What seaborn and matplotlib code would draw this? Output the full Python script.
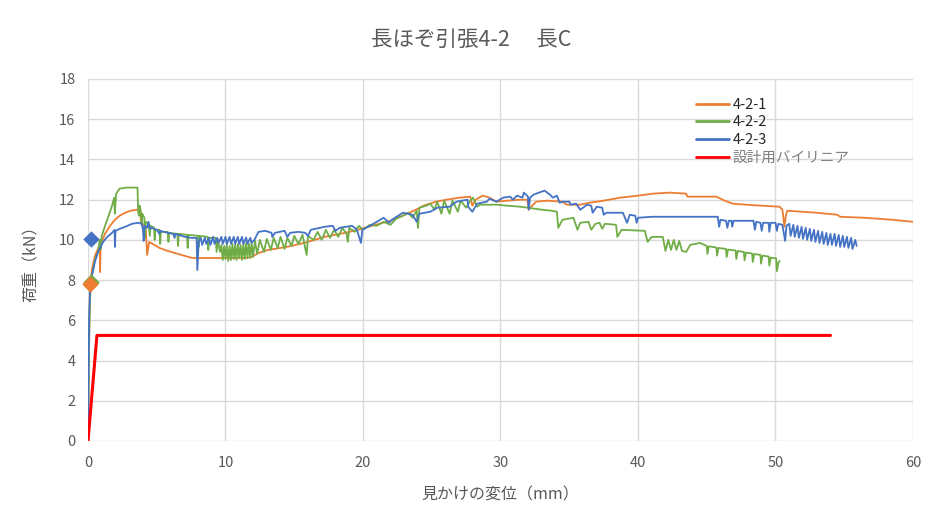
import matplotlib
matplotlib.use("Agg")
import matplotlib.pyplot as plt
import pandas as pd
import seaborn as sns

# ---- data: apparent slip (mm) vs load (kN) ----
s1_x = [0, 0.05, 0.1, 0.15, 0.3, 0.5, 0.75, 0.85, 0.88, 0.92, 1.24, 1.6, 1.96, 2.3, 2.7, 3.1,
        3.56, 3.8, 3.85, 4.2, 4.3, 4.45, 4.7, 5.2, 5.8, 6.3, 7.05, 7.6, 9.0, 10.5, 11.5, 11.9,
        12.4, 13.1, 14.0, 14.8, 16.0, 17.2, 18.7, 19.6, 20.9, 22.0, 22.9, 24.0, 24.4, 25.3,
        26.1, 27.0, 27.8, 27.95, 28.2, 28.7, 29.2, 29.7, 30.5, 31.4, 31.95, 32.05, 32.3, 32.6,
        33.4, 34.5, 34.8, 35.8, 36.5, 37.5, 38.7, 40.0, 41.1, 42.3, 43.5, 43.6, 44.5, 45.7,
        46.3, 46.9, 48.5, 50.3, 50.5, 50.65, 50.75, 50.85, 51.5, 53.0, 54.5, 54.7, 56.5, 58.5,
        60.0]
s1_y = [0, 3.0, 6.0, 7.8, 8.6, 9.2, 9.6, 9.7, 8.4, 9.8, 10.3, 10.7, 11.0, 11.2, 11.35, 11.45,
        11.5, 11.45, 10.9, 10.6, 9.25, 9.9, 9.8, 9.6, 9.45, 9.35, 9.2, 9.1, 9.1, 9.1, 9.1, 9.15,
        9.35, 9.5, 9.6, 9.7, 9.9, 10.15, 10.35, 10.5, 10.75, 10.95, 11.2, 11.55, 11.7, 11.9,
        12.0, 12.1, 12.15, 11.7, 12.0, 12.2, 12.1, 11.9, 11.95, 12.0, 12.0, 11.5, 11.7, 11.9,
        11.95, 11.9, 11.75, 11.75, 11.85, 11.95, 12.1, 12.2, 12.3, 12.35, 12.3, 12.15, 12.15, 12.15,
        11.95, 11.8, 11.72, 11.65, 11.5, 10.65, 11.2, 11.45, 11.42, 11.35, 11.25, 11.15, 11.1, 11.0,
        10.9]

s2_x = [0, 0.05, 0.12, 0.2, 0.35, 0.5, 0.73, 0.85, 0.9, 1.0, 1.24, 1.5, 1.75, 1.9, 1.95, 2.05,
        2.3, 2.8, 3.6, 3.65, 3.7, 3.75, 3.85, 3.9, 3.95, 4.1, 4.15, 4.2, 4.4, 4.5, 4.55, 4.8,
        4.85, 4.9, 5.2, 5.25, 5.3, 5.8, 5.85, 5.9, 6.5, 6.55, 6.6, 7.2, 7.25, 7.3, 8.0, 8.05,
        8.1, 8.7, 8.75, 8.8, 9.3, 9.35, 9.45, 9.6, 9.7, 9.8, 9.9, 10.0, 10.1, 10.2, 10.3, 10.4,
        10.5, 10.6, 10.7, 10.8, 10.9, 11.0, 11.1, 11.2, 11.3, 11.4, 11.5, 11.6, 11.7, 11.8,
        11.9, 12.0, 12.15, 12.3, 12.5, 12.8, 13.0, 13.3, 13.5,
        13.8, 14.0, 14.3, 14.5, 14.8, 15.0, 15.3, 15.6, 15.9, 16.0, 16.4, 16.7, 17.0, 17.3,
        17.6, 17.9, 18.2, 18.5, 18.8, 18.9, 19.0, 19.4, 19.7, 20.0, 20.5, 21.0, 21.5, 22.0,
        22.4, 22.9, 23.3, 23.6, 23.9, 24.0, 24.1, 24.6, 24.9, 25.2, 25.4, 25.7, 25.9, 26.3,
        26.5, 26.9, 27.1, 27.5, 27.8, 28.0, 28.3, 28.5, 29.7, 30.5, 31.4, 32.0, 33.0, 33.7,
        34.1, 34.2, 34.5, 35.3, 35.6, 35.8, 36.4, 36.6, 36.9, 37.2, 37.4, 37.6, 38.4, 38.5,
        38.8, 40.5, 40.7, 41.0, 41.8, 42.0, 42.2, 42.4, 42.6, 42.8, 43.0, 43.2, 43.5, 43.8,
        44.5, 45.0, 45.05, 45.15, 45.7, 45.75, 45.85, 46.4, 46.45, 46.55, 47.1, 47.15, 47.25,
        47.7, 47.75, 47.85, 48.3, 48.35, 48.45, 48.9, 48.95, 49.05, 49.5, 49.55, 49.65, 50.05,
        50.1, 50.2, 50.3]
s2_y = [0, 3.5, 6.5, 7.9, 8.5, 9.0, 9.4, 10.0, 9.5, 10.2, 10.7, 11.2, 11.7, 12.1, 11.3, 12.3,
        12.55, 12.6, 12.6, 11.4, 11.2, 11.7, 11.4, 10.8, 11.3, 11.1, 10.1, 10.9, 10.8, 10.2, 10.7, 10.6,
        10.0, 10.5, 10.5, 9.8, 10.4, 10.4, 9.9, 10.35, 10.3, 9.7, 10.3, 10.25, 9.6, 10.25, 10.2, 9.65,
        10.2, 10.15, 9.5, 10.1, 10.1, 9.4, 10.0, 9.4, 9.75, 9.0, 9.7, 9.05, 9.75, 8.95, 9.7, 9.0,
        9.8, 9.05, 9.75, 9.0, 9.8, 9.1, 9.75, 9.0, 9.8, 9.05, 9.85, 9.1, 9.8, 9.1,
        9.9, 9.15, 9.95, 9.3, 10.0, 9.4, 10.05, 9.5, 10.1,
        9.6, 10.15, 9.55, 10.1, 9.7, 10.2, 9.8, 10.25, 9.25, 10.2, 10.0, 10.4, 10.0, 10.5,
        10.1, 10.5, 10.15, 10.6, 10.3, 9.9, 10.6, 10.4, 10.7, 10.5, 10.75, 10.7, 10.9, 10.75,
        11.05, 11.2, 11.35, 11.1, 11.45, 10.6, 11.6, 11.7, 11.8, 11.5, 11.9, 11.3, 11.95, 11.3,
        11.95, 11.4, 11.95, 11.6, 11.95, 12.1, 11.65, 11.75, 11.75, 11.7, 11.65, 11.6, 11.5, 11.45,
        11.4, 10.6, 11.0, 11.1, 10.5, 10.85, 10.9, 10.5, 10.8, 10.85, 10.55, 10.8, 10.75, 10.15,
        10.5, 10.45, 9.9, 10.15, 10.15, 9.45, 10.0, 9.5, 10.0, 9.5, 9.95, 9.45, 9.4, 9.75,
        9.85, 9.7, 9.3, 9.68, 9.62, 9.22, 9.6, 9.55, 9.15, 9.52, 9.47, 9.05, 9.45,
        9.4, 8.98, 9.37, 9.32, 8.9, 9.3, 9.25, 8.82, 9.22, 9.17, 8.72, 9.12, 9.08,
        8.45, 8.85, 8.95]

s3_x = [0, 0.03, 0.08, 0.15, 0.3, 0.5, 0.73, 1.1, 1.4, 1.75, 1.93, 1.96, 2.0, 2.3, 2.7, 3.2,
        3.64, 3.9, 4.0, 4.05, 4.1, 4.3, 4.4, 4.5, 4.65, 5.0, 5.2, 5.25, 5.8, 6.2, 6.3, 6.35,
        7.05, 7.5, 7.9, 7.95, 8.05, 8.2, 8.3, 8.5, 8.6, 8.8, 8.9, 9.1, 9.2, 9.4, 9.5, 9.7,
        9.8, 10.0, 10.1, 10.3, 10.4, 10.6, 10.7, 10.9, 11.0, 11.2, 11.3, 11.5, 11.6, 11.8,
        11.9, 12.1, 12.4, 12.9, 13.35, 13.4, 13.6, 14.3, 14.5, 14.7, 15.3, 15.8, 16.0, 16.2,
        17.2, 17.8, 18.0, 18.3, 19.2, 19.5, 19.6, 19.85, 19.95, 20.5, 21.5, 21.9, 22.1, 22.9,
        23.6, 23.9, 24.1, 24.9, 25.4, 26.3, 26.8, 27.6, 27.65, 27.95, 28.3, 29.0, 29.2, 29.7,
        30.2, 30.7, 30.9, 31.2, 31.6, 31.7, 32.0, 32.05, 32.15, 32.4, 33.2, 33.6, 33.8, 34.1,
        34.3, 34.5, 35.0, 35.1, 35.5, 35.8, 36.3, 36.6, 36.7, 37.0, 37.4, 37.5, 37.7, 38.9,
        39.2, 39.4, 39.8, 39.9, 40.0, 41.0, 43.0, 45.8, 45.9, 46.0, 46.4, 46.5, 46.6, 46.8,
        46.85, 46.95, 47.2, 48.4, 48.5, 48.6, 48.9, 49.0, 49.1, 49.5, 49.55, 49.65, 50.0, 50.1,
        50.2, 50.5, 50.7, 50.8, 51.0, 51.1, 51.3, 51.4, 51.6, 51.7, 51.9, 52.0, 52.2, 52.3,
        52.5, 52.6, 52.8, 52.9, 53.1, 53.2, 53.4, 53.5, 53.7, 53.8, 54.0, 54.1, 54.3, 54.4,
        54.6, 54.7, 54.9, 55.0, 55.2, 55.3, 55.5, 55.6, 55.8, 55.9]
s3_y = [0, 3.0, 6.0, 7.5, 8.25, 8.9, 9.4, 9.9, 10.15, 10.35, 10.5, 9.65, 10.45, 10.55, 10.65, 10.8,
        10.85, 10.8, 10.5, 9.95, 10.7, 10.6, 10.9, 10.55, 10.6, 10.5, 10.3, 10.45, 10.35, 10.3, 10.1, 10.3,
        10.15, 10.1, 10.1, 8.5, 9.9, 10.1, 9.75, 10.1, 9.8, 10.1, 9.75, 10.15, 9.8, 10.1, 9.85, 10.15,
        9.8, 10.15, 9.8, 10.15, 9.8, 10.15, 9.8, 10.15, 9.8, 10.15, 9.8, 10.12, 9.8, 10.1,
        9.85, 10.0, 10.4, 10.45, 10.35, 10.15, 10.35, 10.45, 10.15, 10.35, 10.4, 10.35, 10.2, 10.5,
        10.65, 10.7, 10.45, 10.6, 10.7, 10.55, 10.4, 9.85, 10.5, 10.7, 11.1, 10.85, 11.0, 11.35,
        11.25, 10.9, 11.3, 11.4, 11.6, 11.65, 11.9, 12.0, 11.65, 11.4, 11.8, 11.9, 12.05, 11.9,
        12.1, 12.15, 12.0, 12.2, 12.1, 12.35, 12.15, 11.5, 12.1, 12.25, 12.45, 12.25, 12.1, 12.2,
        11.85, 11.9, 11.9, 11.75, 11.8, 11.5, 11.75, 11.7, 11.35, 11.65, 11.6, 11.25, 11.35, 11.35,
        10.85, 11.25, 11.2, 10.85, 11.1, 11.15, 11.15, 11.15, 10.65, 11.0, 10.95, 10.6, 10.95, 10.95,
        10.65, 10.95, 10.95, 10.95, 10.5, 10.9, 10.85, 10.45, 10.85, 10.85, 10.4, 10.85, 10.85, 10.45,
        10.8, 10.75, 9.95, 10.7, 10.8, 10.2, 10.75, 10.15, 10.7, 10.1, 10.65, 10.05, 10.6, 10.0,
        10.55, 9.95, 10.5, 9.9, 10.45, 9.85, 10.4, 9.8, 10.35, 9.75, 10.3, 9.75, 10.3, 9.7,
        10.25, 9.65, 10.2, 9.65, 10.15, 9.6, 10.1, 9.55, 10.0, 9.7]

# design bilinear line
design_x = [0, 0.65, 54.0]
design_y = [0, 5.25, 5.25]

# yield points shown as diamonds
yield_labels = ["4-2-2", "4-2-1", "4-2-3"]
yield_x = [0.2, 0.15, 0.22]
yield_y = [7.9, 7.8, 10.05]

series_names = ["4-2-1", "4-2-2", "4-2-3", "設計用バイリニア"]
colors = {"4-2-1": "#ED7D31", "4-2-2": "#70AD47", "4-2-3": "#4472C4",
          "設計用バイリニア": "#FF0000"}

x_ticks = [0, 10, 20, 30, 40, 50, 60]
y_ticks = [0, 2, 4, 6, 8, 10, 12, 14, 16, 18]

title = "長ほぞ引張4-2　 長C"
xlabel = "見かけの変位（mm）"
ylabel = "荷重（kN）"

# ---- styling ----
sns.set_theme(style="whitegrid")
plt.rcParams["font.family"] = ["Noto Sans CJK JP", "DejaVu Sans"]
GRAY = "#595959"

fig = plt.figure(figsize=(9.29, 5.23), dpi=100)
ax = fig.add_axes([88 / 929, 1 - 441 / 523, (913 - 88) / 929, (441 - 79) / 523])

frames = {
    "4-2-1": pd.DataFrame({"x": s1_x, "y": s1_y}),
    "4-2-2": pd.DataFrame({"x": s2_x, "y": s2_y}),
    "4-2-3": pd.DataFrame({"x": s3_x, "y": s3_y}),
    "設計用バイリニア": pd.DataFrame({"x": design_x, "y": design_y}),
}

for name in series_names:
    lw = 2.2 if name == "設計用バイリニア" else 1.3
    sns.lineplot(data=frames[name], x="x", y="y", sort=False, estimator=None,
                 color=colors[name], linewidth=lw, label=name, ax=ax, zorder=3)

ydf = pd.DataFrame({"x": yield_x, "y": yield_y, "s": yield_labels})
for _, r in ydf.iterrows():
    ax.scatter([r["x"]], [r["y"]], marker="D", s=70, color=colors[r["s"]],
               zorder=5, clip_on=False, linewidths=0)

ax.set_xlim(0, 60)
ax.set_ylim(0, 18)
ax.set_xticks(x_ticks)
ax.set_yticks(y_ticks)
ax.grid(True, color="#d9d9d9", linewidth=1.0)
for sp in ax.spines.values():
    sp.set_visible(False)
ax.tick_params(axis="both", length=0, labelsize=10.5, colors=GRAY)
ax.tick_params(axis="x", pad=11)
ax.tick_params(axis="y", pad=9)
ax.set_xlabel(xlabel, fontsize=11.5, color=GRAY, labelpad=12)
ax.set_ylabel(ylabel, fontsize=11.5, color=GRAY, labelpad=14)

fig.text(471 / 929, 1 - 40 / 523, title, ha="center", va="center",
         fontsize=15.5, color=GRAY)

leg = ax.legend(loc="upper left", bbox_to_anchor=((690 - 88) / 825, 1 - (92 - 79) / 362),
                frameon=False, fontsize=10.5, handlelength=2.3, handletextpad=0.2,
                labelspacing=0.25, borderaxespad=0)
for i, t in enumerate(leg.get_texts()):
    t.set_color("#262626" if i < 3 else "#7f7f7f")
for h in leg.get_lines():
    h.set_linewidth(2.0)

fig.savefig("out.png", dpi=100)
